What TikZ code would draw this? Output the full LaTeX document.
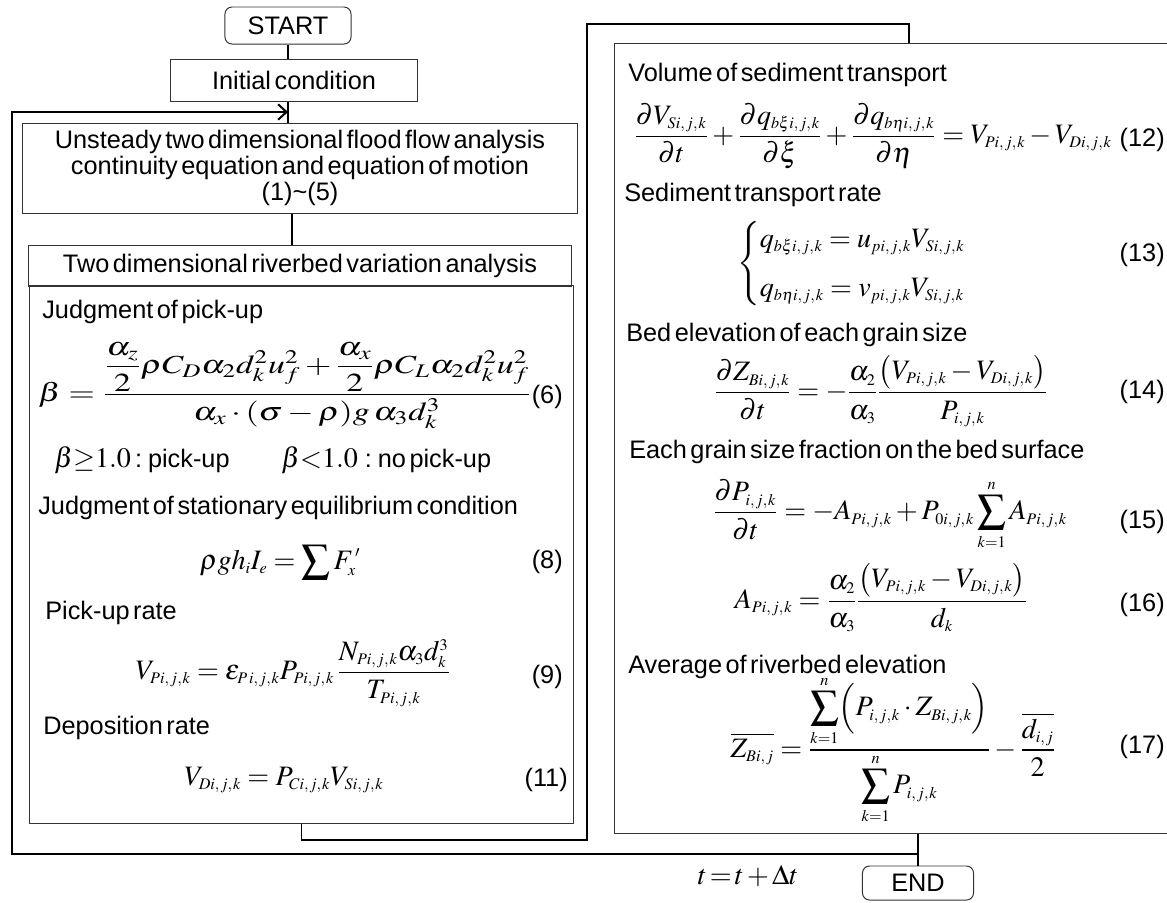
\documentclass[tikz,border=0pt]{standalone}
\usepackage{amsmath}
\usepackage{mathptmx}
\usepackage[no-math]{fontspec}
\setmainfont[WordSpace=0.5]{Liberation Sans}
\usetikzlibrary{positioning,arrows.meta}
\DeclareMathSizes{20}{20}{11.5}{8}
\newcommand{\ijk}{i,\mkern1mu j,\mkern1mu k}
\newcommand{\mfont}{\fontsize{20}{24}\selectfont}

\begin{document}
\begin{tikzpicture}[
    x=0.025cm, y=-0.025cm,
    font=\fontsize{18}{18.5}\selectfont,
    box/.style={rectangle, draw=black!80, line width=0.7pt, inner sep=0pt},
    term/.style={box, rounded corners=5pt},
    link/.style={line width=1.4pt},
    arrow/.style={link, -{Straight Barb[length=6pt, width=11pt]}},
    head/.style={anchor=west, inner sep=0pt},
    eq/.style={inner sep=0pt, font=\mfont},
    num/.style={anchor=east, inner sep=0pt}
]
\useasboundingbox (0,0) rectangle (1167,903);

% Nodes
\node[term, minimum width=3.15cm, minimum height=0.925cm] (start) at (288,25.5) {START};
\node[box, minimum width=6.15cm, minimum height=1.05cm] (init) at (294,80) {Initial condition};
\node[box, minimum width=13.85cm, minimum height=2.25cm, align=center] (flow) at (300,168)
    {Unsteady two dimensional flood flow analysis\\continuity equation and equation of motion\\(1)\textasciitilde(5)};
\node[box, minimum width=13.55cm, minimum height=1.025cm] (bedhead) at (300,265.5) {Two dimensional riverbed variation analysis};
\node[box, minimum width=13.575cm, minimum height=13.425cm] (bedbody) at (301.5,554.5) {};
\node[box, minimum width=13.9cm, minimum height=19.725cm] (sedbox) at (893,438.5) {};
\node[term, minimum width=2.775cm, minimum height=0.85cm] (stop) at (918,883) {END};

% left box contents
\node[head] (pickhd) at (42,312) {Judgment of pick-up};
\node[eq, anchor=west, font=\fontsize{18.5}{22}\selectfont] (eqsix) at (38,386)
    {\scalebox{1.3}[1]{$\beta=\dfrac{\dfrac{\alpha_z}{2}\rho C_D\alpha_2d_k^2u_f^2+\dfrac{\alpha_x}{2}\rho C_L\alpha_2d_k^2u_f^2}{\alpha_x\cdot(\sigma-\rho)g\,\alpha_3d_k^3}$}};
\node[num] (numsix) at (563,397) {(6)};
\node[head] (crita) at (54,460) {{\mfont$\beta{\geq}1.0$}\,: pick-up};
\node[head] (critb) at (281,460) {{\mfont$\beta{<}1.0$}\;: no pick-up};
\node[head] (eqlhd) at (38,508) {Judgment of stationary equilibrium condition};
\node[eq] (eqeight) at (280,562) {$\rho g h_i I_e=\displaystyle\sum F_x^{\,\prime}$};
\node[num] (numeight) at (563,562) {(8)};
\node[head] (ratehd) at (45,613) {Pick-up rate};
\node[eq] (eqnine) at (293,673)
    {$V_{P\ijk}=\varepsilon_{P\,\ijk}P_{P\ijk}\,\dfrac{N_{P\ijk}\alpha_3d_k^3}{T_{P\ijk}}$};
\node[num] (numnine) at (563,677) {(9)};
\node[head] (dephd) at (43,728) {Deposition rate};
\node[eq] (eqeleven) at (284,780) {$V_{D\ijk}=P_{C\ijk}V_{S\ijk}$};
\node[num] (numeleven) at (568,780) {(11)};

% right box contents
\node[head] (volhd) at (628,75) {Volume of sediment transport};
\node[eq, anchor=west] (eqtwelve) at (634,136)
    {$\dfrac{\partial V_{S\ijk}}{\partial t}+\dfrac{\partial q_{b\xi\ijk}}{\partial\xi}+\dfrac{\partial q_{b\eta\ijk}}{\partial\eta}=V_{P\ijk}-V_{D\ijk}$};
\node[num] (numtwelve) at (1165,140) {(12)};
\node[head] (transhd) at (624,195) {Sediment transport rate};
\node[eq, anchor=west] (eqthirteen) at (737,264)
    {$\begin{cases} q_{b\xi\ijk}=u_{p\ijk}V_{S\ijk}\\[6pt] q_{b\eta\ijk}=v_{p\ijk}V_{S\ijk}\end{cases}$};
\node[num] (numthirteen) at (1165,255) {(13)};
\node[head] (elevhd) at (626,335) {Bed elevation of each grain size};
\node[eq] (eqfourteen) at (881,391)
    {$\dfrac{\partial Z_{B\ijk}}{\partial t}=-\dfrac{\alpha_2}{\alpha_3}\dfrac{\bigl(V_{P\ijk}-V_{D\ijk}\bigr)}{P_{\ijk}}$};
\node[num] (numfourteen) at (1165,392) {(14)};
\node[head] (fracthd) at (629,452) {Each grain size fraction on the bed surface};
\node[eq] (eqfifteen) at (890,515)
    {$\dfrac{\partial P_{\ijk}}{\partial t}=-A_{P\ijk}+P_{0\ijk}\displaystyle\sum_{k=1}^{n}A_{P\ijk}$};
\node[num] (numfifteen) at (1165,522) {(15)};
\node[eq] (eqsixteen) at (881,598)
    {$A_{P\ijk}=\dfrac{\alpha_2}{\alpha_3}\dfrac{\bigl(V_{P\ijk}-V_{D\ijk}\bigr)}{d_k}$};
\node[num] (numsixteen) at (1165,605) {(16)};
\node[head] (avghd) at (628,667) {Average of riverbed elevation};
\node[eq] (eqseventeen) at (893,750)
    {$\overline{Z_{Bi,\mkern1mu j}}=\dfrac{\displaystyle\sum_{k=1}^{n}\Bigl(P_{\ijk}\cdot Z_{B\ijk}\Bigr)}{\displaystyle\sum_{k=1}^{n}P_{\ijk}}-\dfrac{\overline{d_{i,\mkern1mu j}}}{2}$};
\node[num] (numseventeen) at (1165,747) {(17)};

\node[eq] (tstep) at (748,876) {$t\,{=}\,t\,{+}\,\Delta t$};

% Edges
\coordinate (join) at (288,112);
\coordinate (branch) at (918,854);
\coordinate (loopleft) at (12,854);
\coordinate (risea) at (587,840);
\coordinate (riseb) at (909,24);
\draw[link] (start.south) -- (start.south |- init.north);
\draw[link] (start.south |- init.south) -- (start.south |- flow.north);
\draw[link] ([xshift=-0.2cm]flow.south) -- ([xshift=-0.2cm]bedhead.north);
\draw[link] (bedbody.south) |- (risea) |- (riseb) -- (riseb |- sedbox.north);
\draw[link] (sedbox.south -| stop.north) -- (stop.north);
\draw[arrow] (branch) -- (loopleft) |- (join);

\end{tikzpicture}
\end{document}
